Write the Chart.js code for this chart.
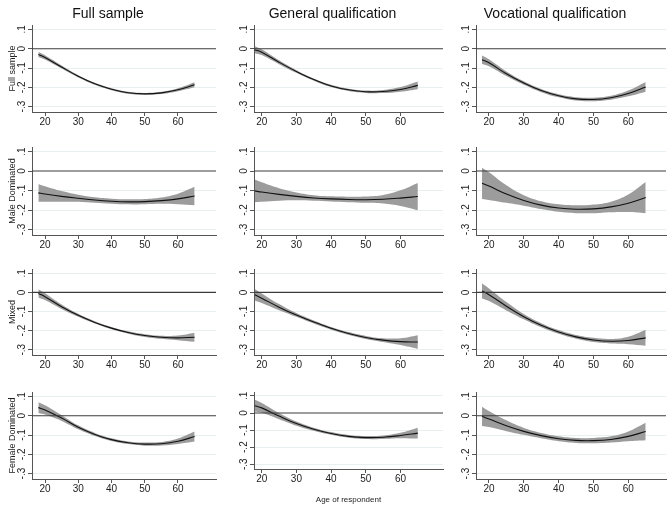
<!DOCTYPE html>
<html><head><meta charset="utf-8">
<script src="https://cdn.jsdelivr.net/npm/chart.js@4.4.1/dist/chart.umd.min.js"></script>
<style>
html,body{margin:0;padding:0;background:#fff;}
#wrap{position:relative;width:667px;height:509px;overflow:hidden;background:#fff;}
canvas{position:absolute;}
</style></head><body><div id="wrap"></div>
<script>
// ---------- data ----------
const ages = [18, 20, 25, 30, 35, 40, 45, 50, 55, 60, 65];
const columnTitles = ['Full sample', 'General qualification', 'Vocational qualification'];
const rowTitles = ['Full sample', 'Male Dominated', 'Mixed', 'Female Dominated'];
const xTicks = [20, 30, 40, 50, 60];
const yTicks = [-0.3, -0.2, -0.1, 0, 0.1];
const yTickLabels = ['-.3', '-.2', '-.1', '0', '.1'];
const xAxisTitle = 'Age of respondent';

// Row 1: Full sample
const est_r1c1 = [-0.030,-0.045,-0.095,-0.143,-0.182,-0.210,-0.228,-0.234,-0.229,-0.213,-0.187];
const lo_r1c1  = [-0.043,-0.056,-0.103,-0.149,-0.187,-0.215,-0.233,-0.239,-0.235,-0.221,-0.200];
const hi_r1c1  = [-0.017,-0.034,-0.087,-0.137,-0.177,-0.205,-0.223,-0.229,-0.223,-0.205,-0.174];
const est_r1c2 = [-0.005,-0.018,-0.070,-0.118,-0.160,-0.193,-0.213,-0.223,-0.222,-0.211,-0.190];
const lo_r1c2  = [-0.023,-0.033,-0.080,-0.125,-0.166,-0.199,-0.219,-0.229,-0.230,-0.223,-0.210];
const hi_r1c2  = [0.013,-0.003,-0.060,-0.111,-0.154,-0.187,-0.207,-0.217,-0.214,-0.199,-0.170];
const est_r1c3 = [-0.057,-0.073,-0.130,-0.178,-0.217,-0.244,-0.260,-0.263,-0.254,-0.232,-0.198];
const lo_r1c3  = [-0.079,-0.091,-0.142,-0.187,-0.225,-0.252,-0.269,-0.272,-0.264,-0.247,-0.223];
const hi_r1c3  = [-0.035,-0.055,-0.118,-0.169,-0.209,-0.236,-0.251,-0.254,-0.244,-0.217,-0.173];
// Row 2: Male Dominated
const est_r2c1 = [-0.112,-0.118,-0.130,-0.140,-0.149,-0.155,-0.158,-0.157,-0.152,-0.143,-0.128];
const lo_r2c1  = [-0.158,-0.158,-0.157,-0.158,-0.163,-0.168,-0.171,-0.170,-0.168,-0.170,-0.175];
const hi_r2c1  = [-0.066,-0.078,-0.103,-0.122,-0.135,-0.142,-0.145,-0.144,-0.136,-0.116,-0.081];
const est_r2c2 = [-0.102,-0.108,-0.120,-0.130,-0.138,-0.143,-0.146,-0.147,-0.145,-0.139,-0.131];
const lo_r2c2  = [-0.160,-0.158,-0.152,-0.150,-0.152,-0.156,-0.160,-0.163,-0.167,-0.179,-0.201];
const hi_r2c2  = [-0.044,-0.058,-0.088,-0.110,-0.124,-0.130,-0.132,-0.131,-0.123,-0.099,-0.061];
const est_r2c3 = [-0.063,-0.077,-0.118,-0.151,-0.175,-0.190,-0.196,-0.194,-0.184,-0.165,-0.136];
const lo_r2c3  = [-0.143,-0.148,-0.163,-0.178,-0.195,-0.209,-0.216,-0.216,-0.211,-0.210,-0.216];
const hi_r2c3  = [0.017,-0.006,-0.073,-0.124,-0.155,-0.171,-0.176,-0.172,-0.157,-0.120,-0.056];
// Row 3: Mixed
const est_r3c1 = [-0.005,-0.022,-0.075,-0.120,-0.157,-0.187,-0.210,-0.226,-0.235,-0.238,-0.235];
const lo_r3c1  = [-0.027,-0.040,-0.087,-0.128,-0.163,-0.193,-0.216,-0.233,-0.243,-0.250,-0.259];
const hi_r3c1  = [0.017,-0.004,-0.063,-0.112,-0.151,-0.181,-0.204,-0.219,-0.227,-0.226,-0.211];
const est_r3c2 = [-0.012,-0.030,-0.077,-0.118,-0.155,-0.188,-0.215,-0.236,-0.250,-0.258,-0.260];
const lo_r3c2  = [-0.042,-0.055,-0.093,-0.128,-0.163,-0.195,-0.222,-0.244,-0.260,-0.276,-0.296];
const hi_r3c2  = [0.018,-0.005,-0.061,-0.108,-0.147,-0.181,-0.208,-0.228,-0.240,-0.240,-0.224];
const est_r3c3 = [0.008,-0.012,-0.072,-0.127,-0.172,-0.207,-0.233,-0.249,-0.256,-0.252,-0.238];
const lo_r3c3  = [-0.032,-0.045,-0.094,-0.141,-0.183,-0.217,-0.243,-0.260,-0.268,-0.272,-0.280];
const hi_r3c3  = [0.048,0.021,-0.050,-0.113,-0.161,-0.197,-0.223,-0.238,-0.244,-0.232,-0.196];
// Row 4: Female Dominated
const est_r4c1 = [0.042,0.030,-0.012,-0.060,-0.097,-0.124,-0.140,-0.147,-0.145,-0.132,-0.108];
const lo_r4c1  = [0.014,0.006,-0.027,-0.070,-0.105,-0.131,-0.147,-0.155,-0.154,-0.146,-0.134];
const hi_r4c1  = [0.070,0.054,0.003,-0.050,-0.089,-0.117,-0.133,-0.139,-0.136,-0.118,-0.082];
const est_r4c2 = [0.042,0.030,-0.018,-0.062,-0.095,-0.120,-0.137,-0.144,-0.142,-0.132,-0.118];
const lo_r4c2  = [0.007,0.001,-0.036,-0.074,-0.104,-0.128,-0.145,-0.153,-0.152,-0.148,-0.150];
const hi_r4c2  = [0.077,0.059,0.000,-0.050,-0.086,-0.112,-0.129,-0.135,-0.132,-0.116,-0.086];
const est_r4c3 = [-0.003,-0.017,-0.052,-0.081,-0.103,-0.119,-0.128,-0.129,-0.123,-0.107,-0.082];
const lo_r4c3  = [-0.053,-0.059,-0.080,-0.099,-0.117,-0.132,-0.141,-0.143,-0.139,-0.132,-0.127];
const hi_r4c3  = [0.047,0.025,-0.024,-0.063,-0.089,-0.106,-0.115,-0.115,-0.107,-0.082,-0.037];

const panelData = [
  [[est_r1c1, lo_r1c1, hi_r1c1], [est_r1c2, lo_r1c2, hi_r1c2], [est_r1c3, lo_r1c3, hi_r1c3]],
  [[est_r2c1, lo_r2c1, hi_r2c1], [est_r2c2, lo_r2c2, hi_r2c2], [est_r2c3, lo_r2c3, hi_r2c3]],
  [[est_r3c1, lo_r3c1, hi_r3c1], [est_r3c2, lo_r3c2, hi_r3c2], [est_r3c3, lo_r3c3, hi_r3c3]],
  [[est_r4c1, lo_r4c1, hi_r4c1], [est_r4c2, lo_r4c2, hi_r4c2], [est_r4c3, lo_r4c3, hi_r4c3]]
];

// ---------- layout ----------
const FONT = '"Liberation Sans", Arial, Helvetica, sans-serif';
const colGeo = [
  {left: 0,   width: 222, yw: 32, padR: 6, min: 16.09, max: 71.43},
  {left: 222, width: 222, yw: 32, padR: 1, min: 17.78, max: 72.25},
  {left: 444, width: 223, yw: 32, padR: 1, min: 16.27, max: 70.83}
];
const rowGeo = [
  {top: 0,   height: 125, padT: 0,  xh: 13},
  {top: 125, height: 123, padT: 22, xh: 13},
  {top: 248, height: 122, padT: 21, xh: 15},
  {top: 370, height: 139, padT: 22, xh: 30}
];

const zeroLine = {
  id: 'zeroLine',
  afterDatasetsDraw(chart) {
    const y = chart.scales.y.getPixelForValue(0);
    const {left, right} = chart.chartArea;
    const ctx = chart.ctx;
    ctx.save();
    ctx.strokeStyle = '#3c3c3c';
    ctx.lineWidth = 1.2;
    ctx.beginPath();
    ctx.moveTo(left, y);
    ctx.lineTo(right, y);
    ctx.stroke();
    ctx.restore();
  }
};

const wrap = document.getElementById('wrap');
for (let r = 0; r < 4; r++) {
  for (let c = 0; c < 3; c++) {
    const cg = colGeo[c], rg = rowGeo[r];
    const isXTitle = (r === 3 && c === 1);
    const xh = isXTitle ? 40 : rg.xh;
    const cv = document.createElement('canvas');
    cv.width = cg.width; cv.height = rg.height;
    cv.style.left = cg.left + 'px'; cv.style.top = rg.top + 'px';
    cv.style.width = cg.width + 'px'; cv.style.height = rg.height + 'px';
    wrap.appendChild(cv);
    const [est, lo, hi] = panelData[r][c];
    new Chart(cv, {
      type: 'line',
      data: {
        datasets: [
          {data: ages.map((a, i) => ({x: a, y: est[i]})), borderWidth: 1.1, borderColor: '#111', pointRadius: 0, fill: false, tension: 0.4, order: 0},
          {data: ages.map((a, i) => ({x: a, y: lo[i]})), borderWidth: 0, borderColor: 'rgba(0,0,0,0)', pointRadius: 0, fill: false, tension: 0.4, order: 1},
          {data: ages.map((a, i) => ({x: a, y: hi[i]})), borderWidth: 0, borderColor: 'rgba(0,0,0,0)', pointRadius: 0, fill: '-1', backgroundColor: '#9c9c9c', tension: 0.4, order: 2}
        ]
      },
      options: {
        responsive: false, animation: false, devicePixelRatio: 1,
        layout: {padding: {top: rg.padT, right: cg.padR, left: 0, bottom: 0}},
        plugins: {
          legend: {display: false},
          tooltip: {enabled: false},
          title: {display: r === 0, text: columnTitles[c], color: '#111',
                  font: {family: FONT, size: 14, weight: 'normal'}, padding: {top: 6, bottom: 2.2}}
        },
        scales: {
          x: {
            type: 'linear', min: cg.min, max: cg.max,
            afterBuildTicks: s => { s.ticks = xTicks.map(v => ({value: v})); },
            afterFit: s => { s.height = xh; },
            grid: {drawOnChartArea: false, tickLength: 4, color: '#555', tickColor: '#555'},
            border: {color: '#555', width: 1},
            ticks: {font: {family: FONT, size: 10}, color: '#222', padding: 0, maxRotation: 0, minRotation: 0, autoSkip: false},
            title: {display: isXTitle, text: xAxisTitle, color: '#222', font: {family: FONT, size: 8}, padding: {top: 0, bottom: 4}}
          },
          y: {
            type: 'linear', min: -0.328, max: 0.123,
            afterBuildTicks: s => { s.ticks = yTicks.map(v => ({value: v})); },
            afterFit: s => { s.width = cg.yw; },
            grid: {color: ctx => (ctx.tick && ctx.tick.value === 0) ? 'rgba(0,0,0,0)' : '#e8eff0', tickColor: '#555', tickLength: 4, lineWidth: 1},
            border: {color: '#555', width: 1},
            ticks: {font: {family: FONT, size: 10}, color: '#222', padding: 0, minRotation: 90, maxRotation: 90, crossAlign: 'center', autoSkip: false,
                    callback: v => yTickLabels[yTicks.indexOf(v)]},
            title: {display: c === 0, text: rowTitles[r], color: '#222', font: {family: FONT, size: 9}, padding: {top: 7, bottom: 0}}
          }
        }
      },
      plugins: [zeroLine]
    });
  }
}
</script>
</body></html>
